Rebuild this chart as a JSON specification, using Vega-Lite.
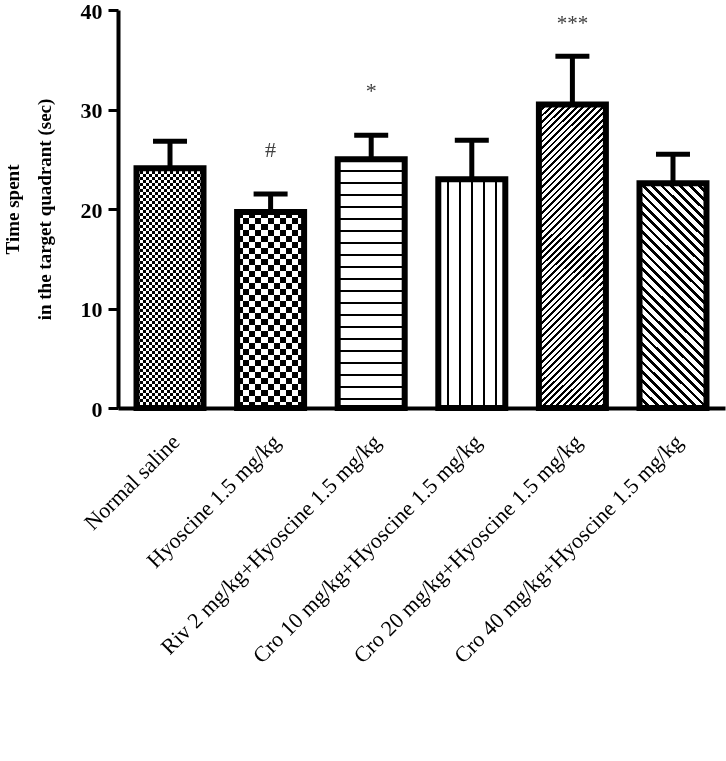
{
  "$schema": "https://vega.github.io/schema/vega-lite/v6.json",
  "width": 607,
  "height": 398,
  "autosize": "none",
  "padding": {"left": 118, "top": 10, "right": 1, "bottom": 353},
  "background": "white",
  "config": {
    "view": {"stroke": null},
    "font": "Liberation Serif",
    "axisY": {
      "grid": false,
      "domainColor": "black", "domainWidth": 4,
      "tickColor": "black", "tickWidth": 3, "tickSize": 10,
      "labelFont": "Liberation Serif", "labelFontSize": 22, "labelFontWeight": "bold",
      "labelColor": "black", "labelPadding": 6, "labelOffset": 1,
      "titleFont": "Liberation Serif", "titleFontSize": 19, "titleFontWeight": "bold",
      "titleColor": "black", "titleLineHeight": 32, "titlePadding": 26
    }
  },
  "data": {"values": [
    {"group": "Normal saline", "mean": 24.1, "upper": 26.8, "sig": ""},
    {"group": "Hyoscine 1.5 mg/kg", "mean": 19.7, "upper": 21.5, "sig": "#"},
    {"group": "Riv 2 mg/kg+Hyoscine 1.5 mg/kg", "mean": 25.0, "upper": 27.4, "sig": "*"},
    {"group": "Cro 10 mg/kg+Hyoscine 1.5 mg/kg", "mean": 23.0, "upper": 26.9, "sig": ""},
    {"group": "Cro 20 mg/kg+Hyoscine 1.5 mg/kg", "mean": 30.5, "upper": 35.35, "sig": "***"},
    {"group": "Cro 40 mg/kg+Hyoscine 1.5 mg/kg", "mean": 22.6, "upper": 25.5, "sig": ""}
  ]},
  "encoding": {
    "x": {
      "field": "group", "type": "nominal", "sort": null,
      "scale": {"paddingInner": 0.334, "paddingOuter": 0.184},
      "axis": {
        "title": null, "ticks": false, "domainColor": "black", "domainWidth": 4,
        "labelAngle": -45, "labelAlign": "right", "labelBaseline": "middle",
        "labelFont": "Liberation Serif", "labelFontSize": 22, "labelColor": "black",
        "labelPadding": 30, "labelOffset": 6, "labelLimit": 1000
      }
    }
  },
  "layer": [
    {
      "mark": {"type": "bar", "strokeWidth": 0},
      "encoding": {
        "y": {
          "field": "mean", "type": "quantitative",
          "scale": {"domain": [0, 40], "nice": false},
          "axis": {"values": [0, 10, 20, 30, 40]},
          "title": ["Time spent", "in the target quadrant  (sec)"]
        },
        "fill": {
          "condition": [
            {"test": "datum.group === 'Normal saline'", "value": {"gradient": "linear", "x1": 0, "y1": 0, "x2": 1, "y2": 0, "stops": [
              {"offset": 0, "color": "#000"}, {"offset": 0.0455, "color": "#000"}, {"offset": 0.0455, "color": "#fff"}, {"offset": 0.0909, "color": "#fff"},
              {"offset": 0.0909, "color": "#000"}, {"offset": 0.1364, "color": "#000"}, {"offset": 0.1364, "color": "#fff"}, {"offset": 0.1818, "color": "#fff"},
              {"offset": 0.1818, "color": "#000"}, {"offset": 0.2273, "color": "#000"}, {"offset": 0.2273, "color": "#fff"}, {"offset": 0.2727, "color": "#fff"},
              {"offset": 0.2727, "color": "#000"}, {"offset": 0.3182, "color": "#000"}, {"offset": 0.3182, "color": "#fff"}, {"offset": 0.3636, "color": "#fff"},
              {"offset": 0.3636, "color": "#000"}, {"offset": 0.4091, "color": "#000"}, {"offset": 0.4091, "color": "#fff"}, {"offset": 0.4545, "color": "#fff"},
              {"offset": 0.4545, "color": "#000"}, {"offset": 0.5, "color": "#000"}, {"offset": 0.5, "color": "#fff"}, {"offset": 0.5455, "color": "#fff"},
              {"offset": 0.5455, "color": "#000"}, {"offset": 0.5909, "color": "#000"}, {"offset": 0.5909, "color": "#fff"}, {"offset": 0.6364, "color": "#fff"},
              {"offset": 0.6364, "color": "#000"}, {"offset": 0.6818, "color": "#000"}, {"offset": 0.6818, "color": "#fff"}, {"offset": 0.7273, "color": "#fff"},
              {"offset": 0.7273, "color": "#000"}, {"offset": 0.7727, "color": "#000"}, {"offset": 0.7727, "color": "#fff"}, {"offset": 0.8182, "color": "#fff"},
              {"offset": 0.8182, "color": "#000"}, {"offset": 0.8636, "color": "#000"}, {"offset": 0.8636, "color": "#fff"}, {"offset": 0.9091, "color": "#fff"},
              {"offset": 0.9091, "color": "#000"}, {"offset": 0.9545, "color": "#000"}, {"offset": 0.9545, "color": "#fff"}, {"offset": 1, "color": "#fff"}
            ]}},
            {"test": "datum.group === 'Hyoscine 1.5 mg/kg'", "value": {"gradient": "linear", "x1": 0, "y1": 0, "x2": 1, "y2": 0, "stops": [
              {"offset": 0, "color": "#000"}, {"offset": 0.0909, "color": "#000"}, {"offset": 0.0909, "color": "#fff"}, {"offset": 0.1818, "color": "#fff"},
              {"offset": 0.1818, "color": "#000"}, {"offset": 0.2727, "color": "#000"}, {"offset": 0.2727, "color": "#fff"}, {"offset": 0.3636, "color": "#fff"},
              {"offset": 0.3636, "color": "#000"}, {"offset": 0.4545, "color": "#000"}, {"offset": 0.4545, "color": "#fff"}, {"offset": 0.5455, "color": "#fff"},
              {"offset": 0.5455, "color": "#000"}, {"offset": 0.6364, "color": "#000"}, {"offset": 0.6364, "color": "#fff"}, {"offset": 0.7273, "color": "#fff"},
              {"offset": 0.7273, "color": "#000"}, {"offset": 0.8182, "color": "#000"}, {"offset": 0.8182, "color": "#fff"}, {"offset": 0.9091, "color": "#fff"},
              {"offset": 0.9091, "color": "#000"}, {"offset": 1, "color": "#000"}
            ]}},
            {"test": "datum.group === 'Riv 2 mg/kg+Hyoscine 1.5 mg/kg'", "value": {"gradient": "linear", "x1": 0, "y1": 0, "x2": 0, "y2": 1, "stops": [
              {"offset": 0, "color": "#fff"},
              {"offset": 0.042, "color": "#fff"}, {"offset": 0.042, "color": "#000"}, {"offset": 0.050, "color": "#000"}, {"offset": 0.050, "color": "#fff"},
              {"offset": 0.0904, "color": "#fff"}, {"offset": 0.0904, "color": "#000"}, {"offset": 0.0984, "color": "#000"}, {"offset": 0.0984, "color": "#fff"},
              {"offset": 0.1388, "color": "#fff"}, {"offset": 0.1388, "color": "#000"}, {"offset": 0.1468, "color": "#000"}, {"offset": 0.1468, "color": "#fff"},
              {"offset": 0.1872, "color": "#fff"}, {"offset": 0.1872, "color": "#000"}, {"offset": 0.1952, "color": "#000"}, {"offset": 0.1952, "color": "#fff"},
              {"offset": 0.2356, "color": "#fff"}, {"offset": 0.2356, "color": "#000"}, {"offset": 0.2436, "color": "#000"}, {"offset": 0.2436, "color": "#fff"},
              {"offset": 0.284, "color": "#fff"}, {"offset": 0.284, "color": "#000"}, {"offset": 0.292, "color": "#000"}, {"offset": 0.292, "color": "#fff"},
              {"offset": 0.3324, "color": "#fff"}, {"offset": 0.3324, "color": "#000"}, {"offset": 0.3404, "color": "#000"}, {"offset": 0.3404, "color": "#fff"},
              {"offset": 0.3808, "color": "#fff"}, {"offset": 0.3808, "color": "#000"}, {"offset": 0.3888, "color": "#000"}, {"offset": 0.3888, "color": "#fff"},
              {"offset": 0.4292, "color": "#fff"}, {"offset": 0.4292, "color": "#000"}, {"offset": 0.4372, "color": "#000"}, {"offset": 0.4372, "color": "#fff"},
              {"offset": 0.4776, "color": "#fff"}, {"offset": 0.4776, "color": "#000"}, {"offset": 0.4856, "color": "#000"}, {"offset": 0.4856, "color": "#fff"},
              {"offset": 0.526, "color": "#fff"}, {"offset": 0.526, "color": "#000"}, {"offset": 0.534, "color": "#000"}, {"offset": 0.534, "color": "#fff"},
              {"offset": 0.5744, "color": "#fff"}, {"offset": 0.5744, "color": "#000"}, {"offset": 0.5824, "color": "#000"}, {"offset": 0.5824, "color": "#fff"},
              {"offset": 0.6228, "color": "#fff"}, {"offset": 0.6228, "color": "#000"}, {"offset": 0.6308, "color": "#000"}, {"offset": 0.6308, "color": "#fff"},
              {"offset": 0.6712, "color": "#fff"}, {"offset": 0.6712, "color": "#000"}, {"offset": 0.6792, "color": "#000"}, {"offset": 0.6792, "color": "#fff"},
              {"offset": 0.7196, "color": "#fff"}, {"offset": 0.7196, "color": "#000"}, {"offset": 0.7276, "color": "#000"}, {"offset": 0.7276, "color": "#fff"},
              {"offset": 0.768, "color": "#fff"}, {"offset": 0.768, "color": "#000"}, {"offset": 0.776, "color": "#000"}, {"offset": 0.776, "color": "#fff"},
              {"offset": 0.8164, "color": "#fff"}, {"offset": 0.8164, "color": "#000"}, {"offset": 0.8244, "color": "#000"}, {"offset": 0.8244, "color": "#fff"},
              {"offset": 0.8648, "color": "#fff"}, {"offset": 0.8648, "color": "#000"}, {"offset": 0.8728, "color": "#000"}, {"offset": 0.8728, "color": "#fff"},
              {"offset": 0.9132, "color": "#fff"}, {"offset": 0.9132, "color": "#000"}, {"offset": 0.9212, "color": "#000"}, {"offset": 0.9212, "color": "#fff"},
              {"offset": 0.9616, "color": "#fff"}, {"offset": 0.9616, "color": "#000"}, {"offset": 0.9696, "color": "#000"}, {"offset": 0.9696, "color": "#fff"},
              {"offset": 1, "color": "#fff"}
            ]}},
            {"test": "datum.group === 'Cro 10 mg/kg+Hyoscine 1.5 mg/kg'", "value": {"gradient": "linear", "x1": 0, "y1": 0, "x2": 1, "y2": 0, "stops": [
              {"offset": 0, "color": "#fff"},
              {"offset": 0.124, "color": "#fff"}, {"offset": 0.124, "color": "#000"}, {"offset": 0.154, "color": "#000"}, {"offset": 0.154, "color": "#fff"},
              {"offset": 0.304, "color": "#fff"}, {"offset": 0.304, "color": "#000"}, {"offset": 0.334, "color": "#000"}, {"offset": 0.334, "color": "#fff"},
              {"offset": 0.485, "color": "#fff"}, {"offset": 0.485, "color": "#000"}, {"offset": 0.515, "color": "#000"}, {"offset": 0.515, "color": "#fff"},
              {"offset": 0.666, "color": "#fff"}, {"offset": 0.666, "color": "#000"}, {"offset": 0.696, "color": "#000"}, {"offset": 0.696, "color": "#fff"},
              {"offset": 0.846, "color": "#fff"}, {"offset": 0.846, "color": "#000"}, {"offset": 0.876, "color": "#000"}, {"offset": 0.876, "color": "#fff"},
              {"offset": 1, "color": "#fff"}
            ]}},
            {"test": "datum.group === 'Cro 20 mg/kg+Hyoscine 1.5 mg/kg'", "value": {"gradient": "linear", "x1": 0, "y1": 0, "x2": 0.2556, "y2": 1.1636, "stops": [
              {"offset": 0, "color": "#000"}, {"offset": 0.007, "color": "#000"}, {"offset": 0.007, "color": "#fff"}, {"offset": 0.0175, "color": "#fff"},
              {"offset": 0.0175, "color": "#000"}, {"offset": 0.0245, "color": "#000"}, {"offset": 0.0245, "color": "#fff"}, {"offset": 0.035, "color": "#fff"},
              {"offset": 0.035, "color": "#000"}, {"offset": 0.042, "color": "#000"}, {"offset": 0.042, "color": "#fff"}, {"offset": 0.0525, "color": "#fff"},
              {"offset": 0.0525, "color": "#000"}, {"offset": 0.0595, "color": "#000"}, {"offset": 0.0595, "color": "#fff"}, {"offset": 0.07, "color": "#fff"},
              {"offset": 0.07, "color": "#000"}, {"offset": 0.077, "color": "#000"}, {"offset": 0.077, "color": "#fff"}, {"offset": 0.0875, "color": "#fff"},
              {"offset": 0.0875, "color": "#000"}, {"offset": 0.0945, "color": "#000"}, {"offset": 0.0945, "color": "#fff"}, {"offset": 0.105, "color": "#fff"},
              {"offset": 0.105, "color": "#000"}, {"offset": 0.112, "color": "#000"}, {"offset": 0.112, "color": "#fff"}, {"offset": 0.1225, "color": "#fff"},
              {"offset": 0.1225, "color": "#000"}, {"offset": 0.1295, "color": "#000"}, {"offset": 0.1295, "color": "#fff"}, {"offset": 0.14, "color": "#fff"},
              {"offset": 0.14, "color": "#000"}, {"offset": 0.147, "color": "#000"}, {"offset": 0.147, "color": "#fff"}, {"offset": 0.1575, "color": "#fff"},
              {"offset": 0.1575, "color": "#000"}, {"offset": 0.1645, "color": "#000"}, {"offset": 0.1645, "color": "#fff"}, {"offset": 0.175, "color": "#fff"},
              {"offset": 0.175, "color": "#000"}, {"offset": 0.182, "color": "#000"}, {"offset": 0.182, "color": "#fff"}, {"offset": 0.1925, "color": "#fff"},
              {"offset": 0.1925, "color": "#000"}, {"offset": 0.1995, "color": "#000"}, {"offset": 0.1995, "color": "#fff"}, {"offset": 0.21, "color": "#fff"},
              {"offset": 0.21, "color": "#000"}, {"offset": 0.217, "color": "#000"}, {"offset": 0.217, "color": "#fff"}, {"offset": 0.2275, "color": "#fff"},
              {"offset": 0.2275, "color": "#000"}, {"offset": 0.2345, "color": "#000"}, {"offset": 0.2345, "color": "#fff"}, {"offset": 0.245, "color": "#fff"},
              {"offset": 0.245, "color": "#000"}, {"offset": 0.252, "color": "#000"}, {"offset": 0.252, "color": "#fff"}, {"offset": 0.2625, "color": "#fff"},
              {"offset": 0.2625, "color": "#000"}, {"offset": 0.2695, "color": "#000"}, {"offset": 0.2695, "color": "#fff"}, {"offset": 0.28, "color": "#fff"},
              {"offset": 0.28, "color": "#000"}, {"offset": 0.287, "color": "#000"}, {"offset": 0.287, "color": "#fff"}, {"offset": 0.2975, "color": "#fff"},
              {"offset": 0.2975, "color": "#000"}, {"offset": 0.3045, "color": "#000"}, {"offset": 0.3045, "color": "#fff"}, {"offset": 0.315, "color": "#fff"},
              {"offset": 0.315, "color": "#000"}, {"offset": 0.322, "color": "#000"}, {"offset": 0.322, "color": "#fff"}, {"offset": 0.3325, "color": "#fff"},
              {"offset": 0.3325, "color": "#000"}, {"offset": 0.3395, "color": "#000"}, {"offset": 0.3395, "color": "#fff"}, {"offset": 0.35, "color": "#fff"},
              {"offset": 0.35, "color": "#000"}, {"offset": 0.357, "color": "#000"}, {"offset": 0.357, "color": "#fff"}, {"offset": 0.3675, "color": "#fff"},
              {"offset": 0.3675, "color": "#000"}, {"offset": 0.3745, "color": "#000"}, {"offset": 0.3745, "color": "#fff"}, {"offset": 0.385, "color": "#fff"},
              {"offset": 0.385, "color": "#000"}, {"offset": 0.392, "color": "#000"}, {"offset": 0.392, "color": "#fff"}, {"offset": 0.4025, "color": "#fff"},
              {"offset": 0.4025, "color": "#000"}, {"offset": 0.4095, "color": "#000"}, {"offset": 0.4095, "color": "#fff"}, {"offset": 0.42, "color": "#fff"},
              {"offset": 0.42, "color": "#000"}, {"offset": 0.427, "color": "#000"}, {"offset": 0.427, "color": "#fff"}, {"offset": 0.4375, "color": "#fff"},
              {"offset": 0.4375, "color": "#000"}, {"offset": 0.4445, "color": "#000"}, {"offset": 0.4445, "color": "#fff"}, {"offset": 0.455, "color": "#fff"},
              {"offset": 0.455, "color": "#000"}, {"offset": 0.462, "color": "#000"}, {"offset": 0.462, "color": "#fff"}, {"offset": 0.4725, "color": "#fff"},
              {"offset": 0.4725, "color": "#000"}, {"offset": 0.4795, "color": "#000"}, {"offset": 0.4795, "color": "#fff"}, {"offset": 0.49, "color": "#fff"},
              {"offset": 0.49, "color": "#000"}, {"offset": 0.497, "color": "#000"}, {"offset": 0.497, "color": "#fff"}, {"offset": 0.5075, "color": "#fff"},
              {"offset": 0.5075, "color": "#000"}, {"offset": 0.5145, "color": "#000"}, {"offset": 0.5145, "color": "#fff"}, {"offset": 0.525, "color": "#fff"},
              {"offset": 0.525, "color": "#000"}, {"offset": 0.532, "color": "#000"}, {"offset": 0.532, "color": "#fff"}, {"offset": 0.5425, "color": "#fff"},
              {"offset": 0.5425, "color": "#000"}, {"offset": 0.5495, "color": "#000"}, {"offset": 0.5495, "color": "#fff"}, {"offset": 0.56, "color": "#fff"},
              {"offset": 0.56, "color": "#000"}, {"offset": 0.567, "color": "#000"}, {"offset": 0.567, "color": "#fff"}, {"offset": 0.5775, "color": "#fff"},
              {"offset": 0.5775, "color": "#000"}, {"offset": 0.5845, "color": "#000"}, {"offset": 0.5845, "color": "#fff"}, {"offset": 0.595, "color": "#fff"},
              {"offset": 0.595, "color": "#000"}, {"offset": 0.602, "color": "#000"}, {"offset": 0.602, "color": "#fff"}, {"offset": 0.6125, "color": "#fff"},
              {"offset": 0.6125, "color": "#000"}, {"offset": 0.6195, "color": "#000"}, {"offset": 0.6195, "color": "#fff"}, {"offset": 0.63, "color": "#fff"},
              {"offset": 0.63, "color": "#000"}, {"offset": 0.637, "color": "#000"}, {"offset": 0.637, "color": "#fff"}, {"offset": 0.6475, "color": "#fff"},
              {"offset": 0.6475, "color": "#000"}, {"offset": 0.6545, "color": "#000"}, {"offset": 0.6545, "color": "#fff"}, {"offset": 0.665, "color": "#fff"},
              {"offset": 0.665, "color": "#000"}, {"offset": 0.672, "color": "#000"}, {"offset": 0.672, "color": "#fff"}, {"offset": 0.6825, "color": "#fff"},
              {"offset": 0.6825, "color": "#000"}, {"offset": 0.6895, "color": "#000"}, {"offset": 0.6895, "color": "#fff"}, {"offset": 0.7, "color": "#fff"},
              {"offset": 0.7, "color": "#000"}, {"offset": 0.707, "color": "#000"}, {"offset": 0.707, "color": "#fff"}, {"offset": 0.7175, "color": "#fff"},
              {"offset": 0.7175, "color": "#000"}, {"offset": 0.7245, "color": "#000"}, {"offset": 0.7245, "color": "#fff"}, {"offset": 0.735, "color": "#fff"},
              {"offset": 0.735, "color": "#000"}, {"offset": 0.742, "color": "#000"}, {"offset": 0.742, "color": "#fff"}, {"offset": 0.7525, "color": "#fff"},
              {"offset": 0.7525, "color": "#000"}, {"offset": 0.7595, "color": "#000"}, {"offset": 0.7595, "color": "#fff"}, {"offset": 0.77, "color": "#fff"},
              {"offset": 0.77, "color": "#000"}, {"offset": 0.777, "color": "#000"}, {"offset": 0.777, "color": "#fff"}, {"offset": 0.7875, "color": "#fff"},
              {"offset": 0.7875, "color": "#000"}, {"offset": 0.7945, "color": "#000"}, {"offset": 0.7945, "color": "#fff"}, {"offset": 0.805, "color": "#fff"},
              {"offset": 0.805, "color": "#000"}, {"offset": 0.812, "color": "#000"}, {"offset": 0.812, "color": "#fff"}, {"offset": 0.8225, "color": "#fff"},
              {"offset": 0.8225, "color": "#000"}, {"offset": 0.8295, "color": "#000"}, {"offset": 0.8295, "color": "#fff"}, {"offset": 0.84, "color": "#fff"},
              {"offset": 0.84, "color": "#000"}, {"offset": 0.847, "color": "#000"}, {"offset": 0.847, "color": "#fff"}, {"offset": 0.8575, "color": "#fff"},
              {"offset": 0.8575, "color": "#000"}, {"offset": 0.8645, "color": "#000"}, {"offset": 0.8645, "color": "#fff"}, {"offset": 0.875, "color": "#fff"},
              {"offset": 0.875, "color": "#000"}, {"offset": 0.882, "color": "#000"}, {"offset": 0.882, "color": "#fff"}, {"offset": 0.8925, "color": "#fff"},
              {"offset": 0.8925, "color": "#000"}, {"offset": 0.8995, "color": "#000"}, {"offset": 0.8995, "color": "#fff"}, {"offset": 0.91, "color": "#fff"},
              {"offset": 0.91, "color": "#000"}, {"offset": 0.917, "color": "#000"}, {"offset": 0.917, "color": "#fff"}, {"offset": 0.9275, "color": "#fff"},
              {"offset": 0.9275, "color": "#000"}, {"offset": 0.9345, "color": "#000"}, {"offset": 0.9345, "color": "#fff"}, {"offset": 0.945, "color": "#fff"},
              {"offset": 0.945, "color": "#000"}, {"offset": 0.952, "color": "#000"}, {"offset": 0.952, "color": "#fff"}, {"offset": 0.9625, "color": "#fff"},
              {"offset": 0.9625, "color": "#000"}, {"offset": 0.9695, "color": "#000"}, {"offset": 0.9695, "color": "#fff"}, {"offset": 0.98, "color": "#fff"},
              {"offset": 0.98, "color": "#000"}, {"offset": 0.987, "color": "#000"}, {"offset": 0.987, "color": "#fff"}, {"offset": 1, "color": "#fff"}
            ]}},
            {"test": "datum.group === 'Cro 40 mg/kg+Hyoscine 1.5 mg/kg'", "value": {"gradient": "linear", "x1": 0, "y1": 1, "x2": 0.3533, "y2": -0.1917, "stops": [
              {"offset": 0, "color": "#000"}, {"offset": 0.013, "color": "#000"}, {"offset": 0.013, "color": "#fff"}, {"offset": 0.032, "color": "#fff"},
              {"offset": 0.032, "color": "#000"}, {"offset": 0.045, "color": "#000"}, {"offset": 0.045, "color": "#fff"}, {"offset": 0.064, "color": "#fff"},
              {"offset": 0.064, "color": "#000"}, {"offset": 0.077, "color": "#000"}, {"offset": 0.077, "color": "#fff"}, {"offset": 0.096, "color": "#fff"},
              {"offset": 0.096, "color": "#000"}, {"offset": 0.109, "color": "#000"}, {"offset": 0.109, "color": "#fff"}, {"offset": 0.128, "color": "#fff"},
              {"offset": 0.128, "color": "#000"}, {"offset": 0.141, "color": "#000"}, {"offset": 0.141, "color": "#fff"}, {"offset": 0.16, "color": "#fff"},
              {"offset": 0.16, "color": "#000"}, {"offset": 0.173, "color": "#000"}, {"offset": 0.173, "color": "#fff"}, {"offset": 0.192, "color": "#fff"},
              {"offset": 0.192, "color": "#000"}, {"offset": 0.205, "color": "#000"}, {"offset": 0.205, "color": "#fff"}, {"offset": 0.224, "color": "#fff"},
              {"offset": 0.224, "color": "#000"}, {"offset": 0.237, "color": "#000"}, {"offset": 0.237, "color": "#fff"}, {"offset": 0.256, "color": "#fff"},
              {"offset": 0.256, "color": "#000"}, {"offset": 0.269, "color": "#000"}, {"offset": 0.269, "color": "#fff"}, {"offset": 0.288, "color": "#fff"},
              {"offset": 0.288, "color": "#000"}, {"offset": 0.301, "color": "#000"}, {"offset": 0.301, "color": "#fff"}, {"offset": 0.32, "color": "#fff"},
              {"offset": 0.32, "color": "#000"}, {"offset": 0.333, "color": "#000"}, {"offset": 0.333, "color": "#fff"}, {"offset": 0.352, "color": "#fff"},
              {"offset": 0.352, "color": "#000"}, {"offset": 0.365, "color": "#000"}, {"offset": 0.365, "color": "#fff"}, {"offset": 0.384, "color": "#fff"},
              {"offset": 0.384, "color": "#000"}, {"offset": 0.397, "color": "#000"}, {"offset": 0.397, "color": "#fff"}, {"offset": 0.416, "color": "#fff"},
              {"offset": 0.416, "color": "#000"}, {"offset": 0.429, "color": "#000"}, {"offset": 0.429, "color": "#fff"}, {"offset": 0.448, "color": "#fff"},
              {"offset": 0.448, "color": "#000"}, {"offset": 0.461, "color": "#000"}, {"offset": 0.461, "color": "#fff"}, {"offset": 0.48, "color": "#fff"},
              {"offset": 0.48, "color": "#000"}, {"offset": 0.493, "color": "#000"}, {"offset": 0.493, "color": "#fff"}, {"offset": 0.512, "color": "#fff"},
              {"offset": 0.512, "color": "#000"}, {"offset": 0.525, "color": "#000"}, {"offset": 0.525, "color": "#fff"}, {"offset": 0.544, "color": "#fff"},
              {"offset": 0.544, "color": "#000"}, {"offset": 0.557, "color": "#000"}, {"offset": 0.557, "color": "#fff"}, {"offset": 0.576, "color": "#fff"},
              {"offset": 0.576, "color": "#000"}, {"offset": 0.589, "color": "#000"}, {"offset": 0.589, "color": "#fff"}, {"offset": 0.608, "color": "#fff"},
              {"offset": 0.608, "color": "#000"}, {"offset": 0.621, "color": "#000"}, {"offset": 0.621, "color": "#fff"}, {"offset": 0.64, "color": "#fff"},
              {"offset": 0.64, "color": "#000"}, {"offset": 0.653, "color": "#000"}, {"offset": 0.653, "color": "#fff"}, {"offset": 0.672, "color": "#fff"},
              {"offset": 0.672, "color": "#000"}, {"offset": 0.685, "color": "#000"}, {"offset": 0.685, "color": "#fff"}, {"offset": 0.704, "color": "#fff"},
              {"offset": 0.704, "color": "#000"}, {"offset": 0.717, "color": "#000"}, {"offset": 0.717, "color": "#fff"}, {"offset": 0.736, "color": "#fff"},
              {"offset": 0.736, "color": "#000"}, {"offset": 0.749, "color": "#000"}, {"offset": 0.749, "color": "#fff"}, {"offset": 0.768, "color": "#fff"},
              {"offset": 0.768, "color": "#000"}, {"offset": 0.781, "color": "#000"}, {"offset": 0.781, "color": "#fff"}, {"offset": 0.8, "color": "#fff"},
              {"offset": 0.8, "color": "#000"}, {"offset": 0.813, "color": "#000"}, {"offset": 0.813, "color": "#fff"}, {"offset": 0.832, "color": "#fff"},
              {"offset": 0.832, "color": "#000"}, {"offset": 0.845, "color": "#000"}, {"offset": 0.845, "color": "#fff"}, {"offset": 0.864, "color": "#fff"},
              {"offset": 0.864, "color": "#000"}, {"offset": 0.877, "color": "#000"}, {"offset": 0.877, "color": "#fff"}, {"offset": 0.896, "color": "#fff"},
              {"offset": 0.896, "color": "#000"}, {"offset": 0.909, "color": "#000"}, {"offset": 0.909, "color": "#fff"}, {"offset": 0.928, "color": "#fff"},
              {"offset": 0.928, "color": "#000"}, {"offset": 0.941, "color": "#000"}, {"offset": 0.941, "color": "#fff"}, {"offset": 0.96, "color": "#fff"},
              {"offset": 0.96, "color": "#000"}, {"offset": 0.973, "color": "#000"}, {"offset": 0.973, "color": "#fff"}, {"offset": 0.992, "color": "#fff"},
              {"offset": 0.992, "color": "#000"}, {"offset": 1, "color": "#000"}
            ]}}
          ],
          "value": "#ffffff"
        }
      }
    },
    {
      "transform": [{"filter": "datum.group === 'Hyoscine 1.5 mg/kg' || datum.group === 'Normal saline'"}],
      "mark": {"type": "bar", "strokeWidth": 0, "blend": "difference"},
      "encoding": {
        "y": {"field": "mean", "type": "quantitative", "axis": {"values": [0, 10, 20, 30, 40]}, "title": ["Time spent", "in the target quadrant  (sec)"]},
        "fill": {
          "condition": [
            {"test": "datum.group === 'Normal saline'", "value": {"gradient": "linear", "x1": 0, "y1": 0, "x2": 0, "y2": 1, "stops": [
              {"offset": 0, "color": "#000"}, {"offset": 0.0125, "color": "#000"}, {"offset": 0.0125, "color": "#fff"}, {"offset": 0.025, "color": "#fff"},
              {"offset": 0.025, "color": "#000"}, {"offset": 0.0375, "color": "#000"}, {"offset": 0.0375, "color": "#fff"}, {"offset": 0.05, "color": "#fff"},
              {"offset": 0.05, "color": "#000"}, {"offset": 0.0625, "color": "#000"}, {"offset": 0.0625, "color": "#fff"}, {"offset": 0.075, "color": "#fff"},
              {"offset": 0.075, "color": "#000"}, {"offset": 0.0875, "color": "#000"}, {"offset": 0.0875, "color": "#fff"}, {"offset": 0.1, "color": "#fff"},
              {"offset": 0.1, "color": "#000"}, {"offset": 0.1125, "color": "#000"}, {"offset": 0.1125, "color": "#fff"}, {"offset": 0.125, "color": "#fff"},
              {"offset": 0.125, "color": "#000"}, {"offset": 0.1375, "color": "#000"}, {"offset": 0.1375, "color": "#fff"}, {"offset": 0.15, "color": "#fff"},
              {"offset": 0.15, "color": "#000"}, {"offset": 0.1625, "color": "#000"}, {"offset": 0.1625, "color": "#fff"}, {"offset": 0.175, "color": "#fff"},
              {"offset": 0.175, "color": "#000"}, {"offset": 0.1875, "color": "#000"}, {"offset": 0.1875, "color": "#fff"}, {"offset": 0.2, "color": "#fff"},
              {"offset": 0.2, "color": "#000"}, {"offset": 0.2125, "color": "#000"}, {"offset": 0.2125, "color": "#fff"}, {"offset": 0.225, "color": "#fff"},
              {"offset": 0.225, "color": "#000"}, {"offset": 0.2375, "color": "#000"}, {"offset": 0.2375, "color": "#fff"}, {"offset": 0.25, "color": "#fff"},
              {"offset": 0.25, "color": "#000"}, {"offset": 0.2625, "color": "#000"}, {"offset": 0.2625, "color": "#fff"}, {"offset": 0.275, "color": "#fff"},
              {"offset": 0.275, "color": "#000"}, {"offset": 0.2875, "color": "#000"}, {"offset": 0.2875, "color": "#fff"}, {"offset": 0.3, "color": "#fff"},
              {"offset": 0.3, "color": "#000"}, {"offset": 0.3125, "color": "#000"}, {"offset": 0.3125, "color": "#fff"}, {"offset": 0.325, "color": "#fff"},
              {"offset": 0.325, "color": "#000"}, {"offset": 0.3375, "color": "#000"}, {"offset": 0.3375, "color": "#fff"}, {"offset": 0.35, "color": "#fff"},
              {"offset": 0.35, "color": "#000"}, {"offset": 0.3625, "color": "#000"}, {"offset": 0.3625, "color": "#fff"}, {"offset": 0.375, "color": "#fff"},
              {"offset": 0.375, "color": "#000"}, {"offset": 0.3875, "color": "#000"}, {"offset": 0.3875, "color": "#fff"}, {"offset": 0.4, "color": "#fff"},
              {"offset": 0.4, "color": "#000"}, {"offset": 0.4125, "color": "#000"}, {"offset": 0.4125, "color": "#fff"}, {"offset": 0.425, "color": "#fff"},
              {"offset": 0.425, "color": "#000"}, {"offset": 0.4375, "color": "#000"}, {"offset": 0.4375, "color": "#fff"}, {"offset": 0.45, "color": "#fff"},
              {"offset": 0.45, "color": "#000"}, {"offset": 0.4625, "color": "#000"}, {"offset": 0.4625, "color": "#fff"}, {"offset": 0.475, "color": "#fff"},
              {"offset": 0.475, "color": "#000"}, {"offset": 0.4875, "color": "#000"}, {"offset": 0.4875, "color": "#fff"}, {"offset": 0.5, "color": "#fff"},
              {"offset": 0.5, "color": "#000"}, {"offset": 0.5125, "color": "#000"}, {"offset": 0.5125, "color": "#fff"}, {"offset": 0.525, "color": "#fff"},
              {"offset": 0.525, "color": "#000"}, {"offset": 0.5375, "color": "#000"}, {"offset": 0.5375, "color": "#fff"}, {"offset": 0.55, "color": "#fff"},
              {"offset": 0.55, "color": "#000"}, {"offset": 0.5625, "color": "#000"}, {"offset": 0.5625, "color": "#fff"}, {"offset": 0.575, "color": "#fff"},
              {"offset": 0.575, "color": "#000"}, {"offset": 0.5875, "color": "#000"}, {"offset": 0.5875, "color": "#fff"}, {"offset": 0.6, "color": "#fff"},
              {"offset": 0.6, "color": "#000"}, {"offset": 0.6125, "color": "#000"}, {"offset": 0.6125, "color": "#fff"}, {"offset": 0.625, "color": "#fff"},
              {"offset": 0.625, "color": "#000"}, {"offset": 0.6375, "color": "#000"}, {"offset": 0.6375, "color": "#fff"}, {"offset": 0.65, "color": "#fff"},
              {"offset": 0.65, "color": "#000"}, {"offset": 0.6625, "color": "#000"}, {"offset": 0.6625, "color": "#fff"}, {"offset": 0.675, "color": "#fff"},
              {"offset": 0.675, "color": "#000"}, {"offset": 0.6875, "color": "#000"}, {"offset": 0.6875, "color": "#fff"}, {"offset": 0.7, "color": "#fff"},
              {"offset": 0.7, "color": "#000"}, {"offset": 0.7125, "color": "#000"}, {"offset": 0.7125, "color": "#fff"}, {"offset": 0.725, "color": "#fff"},
              {"offset": 0.725, "color": "#000"}, {"offset": 0.7375, "color": "#000"}, {"offset": 0.7375, "color": "#fff"}, {"offset": 0.75, "color": "#fff"},
              {"offset": 0.75, "color": "#000"}, {"offset": 0.7625, "color": "#000"}, {"offset": 0.7625, "color": "#fff"}, {"offset": 0.775, "color": "#fff"},
              {"offset": 0.775, "color": "#000"}, {"offset": 0.7875, "color": "#000"}, {"offset": 0.7875, "color": "#fff"}, {"offset": 0.8, "color": "#fff"},
              {"offset": 0.8, "color": "#000"}, {"offset": 0.8125, "color": "#000"}, {"offset": 0.8125, "color": "#fff"}, {"offset": 0.825, "color": "#fff"},
              {"offset": 0.825, "color": "#000"}, {"offset": 0.8375, "color": "#000"}, {"offset": 0.8375, "color": "#fff"}, {"offset": 0.85, "color": "#fff"},
              {"offset": 0.85, "color": "#000"}, {"offset": 0.8625, "color": "#000"}, {"offset": 0.8625, "color": "#fff"}, {"offset": 0.875, "color": "#fff"},
              {"offset": 0.875, "color": "#000"}, {"offset": 0.8875, "color": "#000"}, {"offset": 0.8875, "color": "#fff"}, {"offset": 0.9, "color": "#fff"},
              {"offset": 0.9, "color": "#000"}, {"offset": 0.9125, "color": "#000"}, {"offset": 0.9125, "color": "#fff"}, {"offset": 0.925, "color": "#fff"},
              {"offset": 0.925, "color": "#000"}, {"offset": 0.9375, "color": "#000"}, {"offset": 0.9375, "color": "#fff"}, {"offset": 0.95, "color": "#fff"},
              {"offset": 0.95, "color": "#000"}, {"offset": 0.9625, "color": "#000"}, {"offset": 0.9625, "color": "#fff"}, {"offset": 0.975, "color": "#fff"},
              {"offset": 0.975, "color": "#000"}, {"offset": 0.9875, "color": "#000"}, {"offset": 0.9875, "color": "#fff"}, {"offset": 1, "color": "#fff"}
            ]}}
          ],
          "value": {"gradient": "linear", "x1": 0, "y1": 0, "x2": 0, "y2": 1, "stops": [
            {"offset": 0, "color": "#000"}, {"offset": 0.0303, "color": "#000"}, {"offset": 0.0303, "color": "#fff"}, {"offset": 0.0606, "color": "#fff"},
            {"offset": 0.0606, "color": "#000"}, {"offset": 0.0909, "color": "#000"}, {"offset": 0.0909, "color": "#fff"}, {"offset": 0.1212, "color": "#fff"},
            {"offset": 0.1212, "color": "#000"}, {"offset": 0.1515, "color": "#000"}, {"offset": 0.1515, "color": "#fff"}, {"offset": 0.1818, "color": "#fff"},
            {"offset": 0.1818, "color": "#000"}, {"offset": 0.2121, "color": "#000"}, {"offset": 0.2121, "color": "#fff"}, {"offset": 0.2424, "color": "#fff"},
            {"offset": 0.2424, "color": "#000"}, {"offset": 0.2727, "color": "#000"}, {"offset": 0.2727, "color": "#fff"}, {"offset": 0.3030, "color": "#fff"},
            {"offset": 0.3030, "color": "#000"}, {"offset": 0.3333, "color": "#000"}, {"offset": 0.3333, "color": "#fff"}, {"offset": 0.3636, "color": "#fff"},
            {"offset": 0.3636, "color": "#000"}, {"offset": 0.3939, "color": "#000"}, {"offset": 0.3939, "color": "#fff"}, {"offset": 0.4242, "color": "#fff"},
            {"offset": 0.4242, "color": "#000"}, {"offset": 0.4545, "color": "#000"}, {"offset": 0.4545, "color": "#fff"}, {"offset": 0.4848, "color": "#fff"},
            {"offset": 0.4848, "color": "#000"}, {"offset": 0.5152, "color": "#000"}, {"offset": 0.5152, "color": "#fff"}, {"offset": 0.5455, "color": "#fff"},
            {"offset": 0.5455, "color": "#000"}, {"offset": 0.5758, "color": "#000"}, {"offset": 0.5758, "color": "#fff"}, {"offset": 0.6061, "color": "#fff"},
            {"offset": 0.6061, "color": "#000"}, {"offset": 0.6364, "color": "#000"}, {"offset": 0.6364, "color": "#fff"}, {"offset": 0.6667, "color": "#fff"},
            {"offset": 0.6667, "color": "#000"}, {"offset": 0.6970, "color": "#000"}, {"offset": 0.6970, "color": "#fff"}, {"offset": 0.7273, "color": "#fff"},
            {"offset": 0.7273, "color": "#000"}, {"offset": 0.7576, "color": "#000"}, {"offset": 0.7576, "color": "#fff"}, {"offset": 0.7879, "color": "#fff"},
            {"offset": 0.7879, "color": "#000"}, {"offset": 0.8182, "color": "#000"}, {"offset": 0.8182, "color": "#fff"}, {"offset": 0.8485, "color": "#fff"},
            {"offset": 0.8485, "color": "#000"}, {"offset": 0.8788, "color": "#000"}, {"offset": 0.8788, "color": "#fff"}, {"offset": 0.9091, "color": "#fff"},
            {"offset": 0.9091, "color": "#000"}, {"offset": 0.9394, "color": "#000"}, {"offset": 0.9394, "color": "#fff"}, {"offset": 0.9697, "color": "#fff"},
            {"offset": 0.9697, "color": "#000"}, {"offset": 1, "color": "#000"}
          ]}
        }
      }
    },
    {
      "mark": {"type": "bar", "filled": false, "stroke": "black", "strokeWidth": 6, "strokeJoin": "miter"},
      "encoding": {"y": {"field": "mean", "type": "quantitative", "axis": {"values": [0, 10, 20, 30, 40]}, "title": ["Time spent", "in the target quadrant  (sec)"]}}
    },
    {
      "mark": {"type": "rule", "color": "black", "strokeWidth": 5},
      "encoding": {
        "y": {"field": "mean", "type": "quantitative", "axis": {"values": [0, 10, 20, 30, 40]}, "title": ["Time spent", "in the target quadrant  (sec)"]},
        "y2": {"field": "upper"}
      }
    },
    {
      "mark": {"type": "tick", "orient": "horizontal", "color": "black", "size": 34, "thickness": 5, "opacity": 1},
      "encoding": {"y": {"field": "upper", "type": "quantitative", "axis": {"values": [0, 10, 20, 30, 40]}, "title": ["Time spent", "in the target quadrant  (sec)"]}}
    },
    {
      "transform": [{"filter": "datum.sig === '#' || datum.sig === '*'"}],
      "mark": {"type": "text", "font": "Liberation Serif", "fontSize": 22, "color": "#404040", "baseline": "middle", "dy": -44},
      "encoding": {
        "y": {"field": "upper", "type": "quantitative", "axis": {"values": [0, 10, 20, 30, 40]}, "title": ["Time spent", "in the target quadrant  (sec)"]},
        "text": {"field": "sig"}
      }
    },
    {
      "transform": [{"filter": "datum.sig === '***'"}],
      "mark": {"type": "text", "font": "Liberation Serif", "fontSize": 21, "color": "#404040", "baseline": "middle", "dy": -32},
      "encoding": {
        "y": {"field": "upper", "type": "quantitative", "axis": {"values": [0, 10, 20, 30, 40]}, "title": ["Time spent", "in the target quadrant  (sec)"]},
        "text": {"field": "sig"}
      }
    }
  ]
}
